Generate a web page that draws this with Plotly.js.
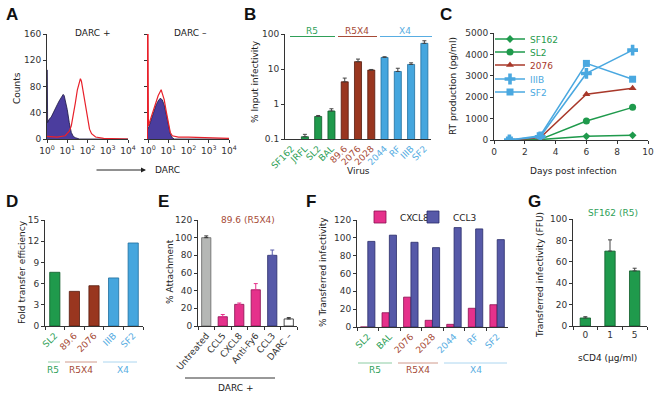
<!DOCTYPE html>
<html><head><meta charset="utf-8">
<script src="https://cdn.plot.ly/plotly-3.0.1.min.js"></script>
<style>html,body{margin:0;padding:0;background:#fff}#chart{width:660px;height:397px}</style>
</head><body><div id="chart"></div>
<script>
// ---------------- DATA ----------------
// Panel A: flow histograms (x given as log10 of DARC intensity)
const aPosIsoExp = [0, 0.015, 0.03, 0.1, 0.2, 0.3, 0.4, 0.5, 0.6, 0.7, 0.8, 0.85, 0.9, 1.0, 1.1, 1.2, 1.3, 1.4, 1.6, 4];
const aPosIsoCnt = [105, 105, 25, 30, 33, 40, 45, 52, 58, 63, 68, 66, 60, 45, 25, 10, 4, 2, 0, 0];
const aPosDarcExp = [0, 0.5, 0.9, 1.0, 1.1, 1.2, 1.3, 1.4, 1.5, 1.6, 1.65, 1.7, 1.8, 1.9, 2.0, 2.1, 2.2, 2.4, 2.8, 3.5, 4];
const aPosDarcCnt = [4, 3, 5, 8, 12, 20, 35, 55, 75, 88, 92, 88, 70, 48, 30, 15, 8, 3, 1, 1, 0];
const aNegIsoExp = [0, 0.1, 0.2, 0.3, 0.4, 0.5, 0.6, 0.7, 0.8, 0.9, 1.0, 1.1, 1.2, 1.3, 4];
const aNegIsoCnt = [15, 25, 35, 45, 52, 58, 62, 60, 52, 38, 22, 8, 2, 0, 0];
const aNegDarcExp = [0, 0.02, 0.1, 0.2, 0.3, 0.4, 0.5, 0.6, 0.65, 0.7, 0.8, 0.9, 1.0, 1.1, 1.2, 1.5, 2, 3, 4];
const aNegDarcCnt = [165, 20, 28, 38, 48, 58, 66, 72, 75, 70, 60, 42, 25, 10, 5, 3, 3, 2, 1];
const aTickVals = [1, 10, 100, 1000, 10000];
const aTickText = ['10<sup>0</sup>', '10<sup>1</sup>', '10<sup>2</sup>', '10<sup>3</sup>', '10<sup>4</sup>'];

// Panel B: % input infectivity
const bViruses = ['SF162', 'JRFL', 'SL2', 'BAL', '89.6', '2076', '2028', '2044', 'RF', 'IIIB', 'SF2'];
const bGroups  = ['R5', 'R5', 'R5', 'R5', 'R5X4', 'R5X4', 'R5X4', 'X4', 'X4', 'X4', 'X4'];
const bValues  = [null, 0.116, 0.44, 0.63, 4.3, 16.2, 9.3, 21.4, 8.5, 13.5, 54];
const bErrors  = [0, 0.02, 0.03, 0.1, 1.2, 3, 0.4, 1, 2, 1.5, 10];

// Panel C: RT production
const cDays = [1, 3, 6, 9];
const cSeries = ['SF162', 'SL2', '2076', 'IIIB', 'SF2'];
const cSF162 = [0, 20, 170, 220];
const cSL2   = [0, 30, 885, 1525];
const c2076  = [0, 100, 2135, 2420];
const cIIIB  = [0, 150, 3110, 4200];
const cSF2   = [0, 200, 3580, 2840];

// Panel D: fold transfer efficiency
const dViruses = ['SL2', '89.6', '2076', 'IIIB', 'SF2'];
const dGroups  = ['R5', 'R5X4', 'R5X4', 'X4', 'X4'];
const dValues  = [7.6, 4.9, 5.7, 6.8, 11.75];

// Panel E: % attachment, 89.6 (R5X4)
const eTreat  = ['Untreated', 'CCL5', 'CXCL8', 'Anti-Fy6', 'CCL3', 'DARC –'];
const eValues = [100, 10.5, 24.5, 41, 80, 8];
const eErrors = [2, 2.5, 1.5, 7, 6, 1.5];

// Panel F: % transferred infectivity
const fViruses = ['SL2', 'BAL', '2076', '2028', '2044', 'RF', 'SF2'];
const fGroups  = ['R5', 'R5', 'R5X4', 'R5X4', 'X4', 'X4', 'X4'];
const fCXCL8   = [0, 16, 33.5, 7.5, 3, 21, 25];
const fCCL3    = [96, 103, 95, 89, 111.5, 110, 98];

// Panel G: SF162 (R5) transferred infectivity vs sCD4
const gDose   = ['0', '1', '5'];
const gValues = [7.5, 70, 51.5];
const gErrors = [1.2, 10.5, 2.5];

// ---------------- STYLE ----------------
const W = 660, H = 397;
const px = x => x / W, py = y => 1 - y / H;
const FONT = 'DejaVu Sans, Verdana, sans-serif';
const col = {
  green: '#1f9a4c', greenL: '#0e5a28', greenT: '#2f9f58', greenS: '#8ccca3',
  brown: '#99361f', brownL: '#561a0c', brownT: '#a64a35', brownS: '#d09a8c',
  blue: '#45a6de', blueL: '#1f6e9e', blueT: '#58ade2', blueS: '#acd6f0',
  pink: '#e5318b', pinkL: '#8a1050', purple: '#5659a8', purpleL: '#2a2c6a',
  gray: '#b5b7b5', grayL: '#666', red: '#e8202a', violet: '#4b3d9e'
};
const gFill = {R5: col.green, R5X4: col.brown, X4: col.blue};
const gLine = {R5: col.greenL, R5X4: col.brownL, X4: col.blueL};
const gText = {R5: col.greenT, R5X4: col.brownT, X4: col.blueT};
const gSoft = {R5: col.greenS, R5X4: col.brownS, X4: col.blueS};
const colored = (labels, groups) => labels.map((l, i) => `<span style="color:${gText[groups[i]]}">${l}</span>`);

function ax(domain, extra) {
  return Object.assign({domain, showline: true, linecolor: '#333', linewidth: 1, ticks: 'outside', ticklen: 3,
    tickcolor: '#333', showgrid: false, zeroline: false, fixedrange: true,
    tickfont: {family: FONT, size: 9, color: '#333'}}, extra);
}
const errUp = (arr, c) => ({type: 'data', symmetric: false, array: arr, arrayminus: arr.map(() => 0),
  color: c, thickness: 1, width: 2});

// ---------------- TRACES ----------------
const traces = [];
const tenPow = a => a.map(e => Math.pow(10, e));
// A
traces.push({x: tenPow(aPosIsoExp), y: aPosIsoCnt, xaxis: 'x', yaxis: 'y', mode: 'lines', fill: 'tozeroy',
  fillcolor: col.violet, line: {color: '#1a1440', width: 0.8}, showlegend: false, hoverinfo: 'skip'});
traces.push({x: tenPow(aPosDarcExp), y: aPosDarcCnt, xaxis: 'x', yaxis: 'y', mode: 'lines',
  line: {color: col.red, width: 1.2}, showlegend: false, hoverinfo: 'skip'});
traces.push({x: tenPow(aNegIsoExp), y: aNegIsoCnt, xaxis: 'x2', yaxis: 'y2', mode: 'lines', fill: 'tozeroy',
  fillcolor: col.violet, line: {color: '#1a1440', width: 0.8}, showlegend: false, hoverinfo: 'skip'});
traces.push({x: tenPow(aNegDarcExp), y: aNegDarcCnt, xaxis: 'x2', yaxis: 'y2', mode: 'lines',
  line: {color: col.red, width: 1.2}, showlegend: false, hoverinfo: 'skip'});
// B
traces.push({type: 'bar', x: bViruses, y: bValues, xaxis: 'x3', yaxis: 'y3', width: 0.53,
  marker: {color: bGroups.map(g => gFill[g]), line: {color: bGroups.map(g => gLine[g]), width: 0.8}},
  error_y: errUp(bErrors, '#444'), showlegend: false});
// C
const cData = [cSF162, cSL2, c2076, cIIIB, cSF2];
const cColors = [col.green, col.green, '#a8382a', '#4aa8e0', '#4aa8e0'];
const cSymbols = ['diamond', 'circle', 'triangle-up', 'cross', 'square'];
const cSizes = [6, 7, 7, 9, 7];
cSeries.forEach((name, i) => {
  traces.push({x: cDays, y: cData[i], name, xaxis: 'x4', yaxis: 'y4', mode: 'lines+markers',
    line: {color: cColors[i], width: 1.5}, marker: {symbol: cSymbols[i], size: cSizes[i], color: cColors[i]},
    legend: i === 0 ? 'legend' : 'legend' + (i + 1)});
});
// D
traces.push({type: 'bar', x: dViruses, y: dValues, xaxis: 'x5', yaxis: 'y5', width: 0.52,
  marker: {color: dGroups.map(g => gFill[g]), line: {color: dGroups.map(g => gLine[g]), width: 0.8}}, showlegend: false});
// E
const eFill = [col.gray, col.pink, col.pink, col.pink, col.purple, '#ffffff'];
const eLine = [col.grayL, col.pinkL, col.pinkL, col.pinkL, col.purpleL, '#222'];
const eErrCol = ['#333', col.pink, col.pink, col.pink, col.purple, '#333'];
eTreat.forEach((t, i) => {
  traces.push({type: 'bar', x: [t], y: [eValues[i]], xaxis: 'x6', yaxis: 'y6', width: 0.56,
    marker: {color: eFill[i], line: {color: eLine[i], width: 0.8}}, error_y: errUp([eErrors[i]], eErrCol[i]), showlegend: false});
});
// F
traces.push({type: 'bar', name: 'CXCL8', x: fViruses, y: fCXCL8, xaxis: 'x7', yaxis: 'y7', width: 0.33, offset: -0.34,
  marker: {color: col.pink, line: {color: col.pinkL, width: 0.8}}, legend: 'legend6'});
traces.push({type: 'bar', name: 'CCL3', x: fViruses, y: fCCL3, xaxis: 'x7', yaxis: 'y7', width: 0.33, offset: 0,
  marker: {color: col.purple, line: {color: col.purpleL, width: 0.8}}, legend: 'legend7'});
// G
traces.push({type: 'bar', x: gDose, y: gValues, xaxis: 'x8', yaxis: 'y8', width: 0.42,
  marker: {color: col.green, line: {color: col.greenL, width: 0.8}}, error_y: errUp(gErrors, '#444'), showlegend: false});

// ---------------- LAYOUT ----------------
const yA = [py(139), py(34)];
const yLow = [py(326), py(220)];
const layout = {
  width: W, height: H, margin: {l: 0, r: 0, t: 0, b: 0}, paper_bgcolor: '#fff', plot_bgcolor: 'rgba(0,0,0,0)',
  font: {family: FONT, size: 9, color: '#222'}, barmode: 'overlay', hovermode: false,
  xaxis: ax([px(47), px(128)], {type: 'log', range: [0, 4], tickvals: aTickVals, ticktext: aTickText, anchor: 'y'}),
  yaxis: ax(yA, {range: [0, 160], dtick: 40, anchor: 'x'}),
  xaxis2: ax([px(148), px(229)], {type: 'log', range: [0, 4], tickvals: aTickVals, ticktext: aTickText, anchor: 'y2'}),
  yaxis2: ax(yA, {range: [0, 160], dtick: 40, anchor: 'x2', showticklabels: false, linecolor: col.red, linewidth: 1.5}),
  xaxis3: ax([px(285), px(431)], {type: 'category', anchor: 'y3', tickangle: -45, ticks: '',
    tickvals: bViruses, ticktext: colored(bViruses, bGroups), tickfont: {family: FONT, size: 9}}),
  yaxis3: ax([py(139), py(34)], {type: 'log', range: [-1, 2], tickvals: [0.1, 1, 10, 100], ticktext: ['0.1', '1', '10', '100'], anchor: 'x3'}),
  xaxis4: ax([px(494), px(648)], {range: [0, 10], dtick: 2, anchor: 'y4'}),
  yaxis4: ax([py(140), py(33)], {range: [0, 5000], dtick: 1000, anchor: 'x4'}),
  xaxis5: ax([px(45), px(143)], {type: 'category', anchor: 'y5', tickangle: -45, tickson: 'boundaries',
    tickvals: dViruses, ticktext: colored(dViruses, dGroups)}),
  yaxis5: ax(yLow, {range: [0, 15], dtick: 3, anchor: 'x5'}),
  xaxis6: ax([px(198), px(297)], {type: 'category', anchor: 'y6', tickangle: -50, tickson: 'boundaries',
    categoryorder: 'array', categoryarray: eTreat}),
  yaxis6: ax(yLow, {range: [0, 120], dtick: 20, anchor: 'x6'}),
  xaxis7: ax([px(357), px(508)], {type: 'category', anchor: 'y7', tickangle: -45, tickson: 'boundaries',
    tickvals: fViruses, ticktext: colored(fViruses, fGroups)}),
  yaxis7: ax([py(327), py(220)], {range: [0, 120], dtick: 20, anchor: 'x7'}),
  xaxis8: ax([px(573), px(647)], {type: 'category', anchor: 'y8', tickson: 'boundaries'}),
  yaxis8: ax([py(326), py(219)], {range: [0, 100], dtick: 20, anchor: 'x8'}),
  shapes: [], annotations: []
};
// legends for C (one per series to match tight spacing) and F
const cLegY = [39, 52, 65, 79, 92];
cSeries.forEach((n, i) => {
  const key = i === 0 ? 'legend' : 'legend' + (i + 1);
  layout[key] = {x: px(490), y: py(cLegY[i]), xanchor: 'left', yanchor: 'middle', bgcolor: 'rgba(0,0,0,0)',
    borderwidth: 0, font: {family: FONT, size: 9, color: cColors[i]}, itemclick: false};
});
layout.legend6 = {x: px(360), y: py(217), xanchor: 'left', yanchor: 'middle', bgcolor: 'rgba(0,0,0,0)',
  font: {family: FONT, size: 9, color: '#222'}};
layout.legend7 = {x: px(413), y: py(217), xanchor: 'left', yanchor: 'middle', bgcolor: 'rgba(0,0,0,0)',
  font: {family: FONT, size: 9, color: '#222'}};

const A = layout.annotations, S = layout.shapes;
const note = (text, x, y, o) => A.push(Object.assign({text, x: px(x), y: py(y), xref: 'paper', yref: 'paper',
  showarrow: false, xanchor: 'center', yanchor: 'middle', font: {family: FONT, size: 9, color: '#222'}}, o || {}));
const hline = (x0, x1, y, c) => S.push({type: 'line', xref: 'paper', yref: 'paper', x0: px(x0), x1: px(x1), y0: py(y), y1: py(y),
  line: {color: c, width: 1}});
const letter = (t, x, y) => note(t, x, y, {font: {family: 'Liberation Sans, Arial, sans-serif', size: 17, color: '#111'}, text: '<b>' + t + '</b>'});
letter('A', 12, 15); letter('B', 250, 15); letter('C', 446, 15);
letter('D', 12, 201); letter('E', 163, 201); letter('F', 311, 201); letter('G', 534, 201);
// A
note('DARC +', 92, 33); note('DARC –', 190, 33);
note('Counts', 17, 88, {textangle: -90});
A.push({text: '', x: px(146), y: py(170), ax: px(95), ay: py(170), xref: 'paper', yref: 'paper', axref: 'paper', ayref: 'paper',
  showarrow: true, arrowhead: 2, arrowsize: 1, arrowwidth: 1, arrowcolor: '#222'});
note('DARC', 168, 170);
// B
note('% Input infectivity', 255, 82, {textangle: -90});
note('Virus', 358, 171);
hline(290, 335, 36.5, col.greenT); note('R5', 312, 31, {font: {family: FONT, size: 9, color: col.greenT}});
hline(338, 377, 36.5, col.brownT); note('R5X4', 357, 31, {font: {family: FONT, size: 9, color: col.brownT}});
hline(380, 432, 36.5, col.blueT); note('X4', 405, 31, {font: {family: FONT, size: 9, color: col.blueT}});
// C
note('RT production (pg/ml)', 453, 86, {textangle: -90});
note('Days post infection', 573, 171);
// D
note('Fold transfer efficiency', 22, 272, {textangle: -90});
hline(48, 60, 362, gSoft.R5); note('R5', 53, 370, {font: {family: FONT, size: 9, color: col.greenT}});
hline(65, 97, 362, gSoft.R5X4); note('R5X4', 81, 370, {font: {family: FONT, size: 9, color: col.brownT}});
hline(103, 137, 362, gSoft.X4); note('X4', 123, 370, {font: {family: FONT, size: 9, color: col.blueT}});
// E
note('89.6 (R5X4)', 248, 220, {font: {family: FONT, size: 9, color: col.brownT}});
note('% Attachment', 170, 272, {textangle: -90});
hline(185, 275, 378, '#333'); note('DARC +', 235, 388);
// F
note('% Transferred infectivity', 323, 272, {textangle: -90});
hline(358, 392, 363, gSoft.R5); note('R5', 375, 370, {font: {family: FONT, size: 9, color: col.greenT}});
hline(398, 438, 363, gSoft.R5X4); note('R5X4', 418, 370, {font: {family: FONT, size: 9, color: col.brownT}});
hline(444, 507, 363, gSoft.X4); note('X4', 476, 370, {font: {family: FONT, size: 9, color: col.blueT}});
// G
note('SF162 (R5)', 613, 213, {font: {family: FONT, size: 9, color: col.greenT}});
note('sCD4 (μg/ml)', 607, 358);
note('Transferred infectivity (FFU)', 540, 275, {textangle: -90});

Plotly.newPlot('chart', traces, layout, {staticPlot: true, displayModeBar: false});
</script></body></html>
